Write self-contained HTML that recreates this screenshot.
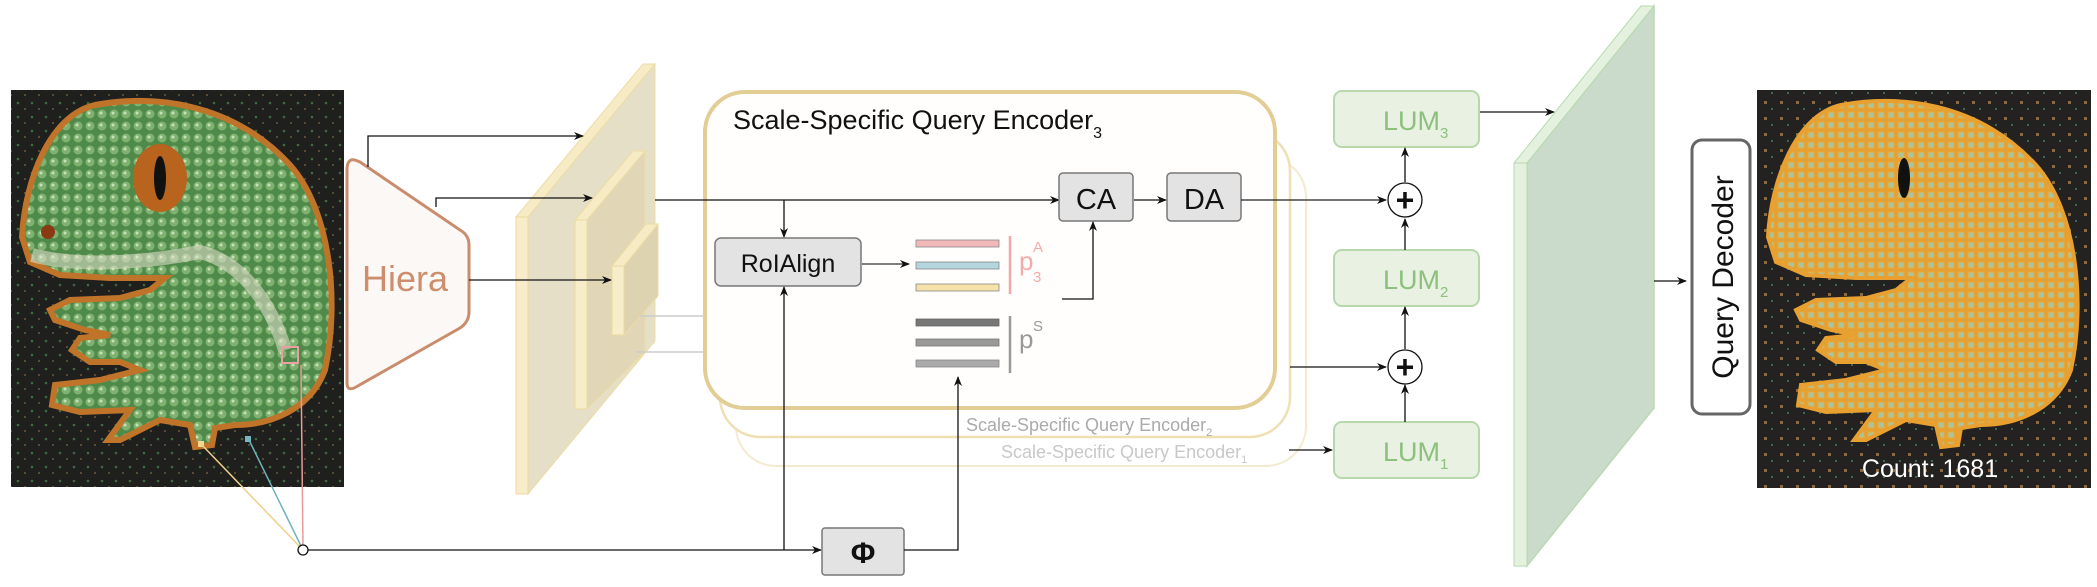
<!DOCTYPE html>
<html><head><meta charset="utf-8"><style>
html,body{margin:0;padding:0;background:#fff;}
svg{display:block;font-family:"Liberation Sans",sans-serif;}
</style></head><body>
<svg width="2097" height="587" viewBox="0 0 2097 587" xmlns="http://www.w3.org/2000/svg">
<defs>
<marker id="ar" markerWidth="10" markerHeight="10" refX="9" refY="5" orient="auto" markerUnits="userSpaceOnUse">
<path d="M0,1 L10,5 L0,9 L3,5 Z" fill="#111"/></marker>
<pattern id="dotsG" width="12" height="12" patternUnits="userSpaceOnUse">
<rect width="12" height="12" fill="#4f8a4a"/>
<circle cx="6" cy="6" r="4.5" fill="#7fb270"/><circle cx="5" cy="5" r="1.5" fill="#c8e0b8"/></pattern>
<pattern id="dotsO" width="10" height="10" patternUnits="userSpaceOnUse">
<rect width="10" height="10" fill="#e3a034"/>
<rect x="2" y="2" width="6" height="6" fill="#a8c4a0" stroke="#f0a830" stroke-width="1"/></pattern>
<pattern id="bg" width="14" height="14" patternUnits="userSpaceOnUse">
<rect width="14" height="14" fill="#1f1f1d"/><circle cx="4" cy="5" r="1.3" fill="#3f6a40"/><circle cx="11" cy="11" r="1" fill="#6a5a3a"/></pattern>
<pattern id="bg2" width="16" height="16" patternUnits="userSpaceOnUse">
<rect width="16" height="16" fill="#232220"/><rect x="4" y="5" width="3" height="3" fill="#8a6a40"/><rect x="11" y="12" width="2" height="2" fill="#3a6a5a"/></pattern>
<path id="gecko" d="M22,237 C25,180 50,115 95,105 C150,95 230,100 290,165 C330,210 340,300 325,370 C310,410 270,425 235,425 L215,428 L212,445 L195,447 L190,425 L160,420 L120,440 L108,440 L130,410 L80,412 L52,405 L55,385 L100,380 L140,370 L120,362 L90,362 L72,350 L80,338 L110,335 L85,330 L55,320 L50,310 L70,300 L120,298 L150,290 L165,278 L110,278 L60,275 L30,262 Z"/>
</defs>

<!-- left image -->
<rect x="11" y="90" width="333" height="397" fill="url(#bg)"/>
<use href="#gecko" fill="url(#dotsG)" stroke="#c0742a" stroke-width="6"/>
<path d="M32,255 C80,268 150,262 200,252 C240,262 270,300 285,350" fill="none" stroke="#e8e2d2" stroke-width="14" opacity="0.55"/>
<ellipse cx="160" cy="178" rx="27" ry="34" fill="#b8641e"/><ellipse cx="160" cy="178" rx="6" ry="22" fill="#111"/>
<circle cx="48" cy="232" r="7" fill="#8a3a12"/>
<rect x="282" y="347" width="16" height="16" fill="none" stroke="#e8a0a0" stroke-width="2"/>
<rect x="245" y="436" width="6" height="6" fill="#7ab8c0"/>
<rect x="198" y="441" width="6" height="6" fill="#f0d890"/>
<line x1="303" y1="550" x2="201" y2="444" stroke="#edd08a" stroke-width="1.5"/>
<line x1="303" y1="550" x2="249" y2="440" stroke="#6fb3bd" stroke-width="1.5"/>
<line x1="303" y1="550" x2="301" y2="365" stroke="#e99a9a" stroke-width="1.5"/>

<!-- Hiera -->
<path d="M355,160 Q347,158 347,170 L347,383 Q347,392 356,387 L460,328 Q469,322 469,312 L469,245 Q469,235 460,230 L360,162 Z" fill="#fcf8f6" stroke="#c98d6e" stroke-width="3"/>
<text x="405" y="291" font-size="36" fill="#cc8e6c" text-anchor="middle">Hiera</text>

<!-- slabs -->
<polygon points="528,217 655,64 655,341 528,494" fill="#e2d9bd" fill-opacity="0.85" stroke="#ecdca4" stroke-width="1"/>
<polygon points="516,217 528,217 655,64 643,64" fill="#f6ebc4" stroke="#ecdca4"/>
<rect x="516" y="217" width="12" height="277" fill="#f7edc8" stroke="#ecd9a0"/>
<polygon points="587,220 645,151 645,352 587,409" fill="#e0d6b5" fill-opacity="0.9" stroke="#ecdca4"/>
<polygon points="575,220 587,220 645,151 633,151" fill="#f6ebc4" stroke="#ecdca4"/>
<rect x="575" y="220" width="12" height="189" fill="#f7edc8" stroke="#ecd9a0"/>
<polygon points="624,266 658,224 658,296 624,335" fill="#ddd3b0" stroke="#ecdca4"/>
<polygon points="612,266 624,266 658,224 646,224" fill="#f6ebc4" stroke="#ecdca4"/>
<rect x="612" y="266" width="12" height="69" fill="#f7edc8" stroke="#ecd9a0"/>
<line x1="640" y1="316" x2="720" y2="316" stroke="#ccc" stroke-width="1.5"/>
<line x1="636" y1="352" x2="720" y2="352" stroke="#ccc" stroke-width="1.5"/>

<polyline points="368,167 368,136 583,136" fill="none" stroke="#111" stroke-width="1.3" marker-end="url(#ar)"/>
<polyline points="436,207 436,198 592,198" fill="none" stroke="#111" stroke-width="1.3" marker-end="url(#ar)"/>
<line x1="469" y1="280" x2="611" y2="280" stroke="#111" stroke-width="1.3" marker-end="url(#ar)"/>

<!-- encoders -->
<rect x="736" y="157" width="570" height="309" rx="40" fill="#fff" stroke="#f3ead0" stroke-width="2"/>
<rect x="720" y="131" width="570" height="306" rx="40" fill="#fff" stroke="#efe0b4" stroke-width="2.5"/>
<rect x="705" y="92" width="570" height="316" rx="40" fill="#fffefc" stroke="#e2cd94" stroke-width="4"/>
<text x="733" y="129" font-size="27" fill="#111">Scale-Specific Query Encoder<tspan font-size="16" dy="9">3</tspan></text>
<text x="966" y="431" font-size="18" fill="#aaa">Scale-Specific Query Encoder<tspan font-size="11" dy="5">2</tspan></text>
<text x="1001" y="458" font-size="18" fill="#c8c8c8">Scale-Specific Query Encoder<tspan font-size="11" dy="5">1</tspan></text>

<line x1="655" y1="200" x2="1059" y2="200" stroke="#111" stroke-width="1.3" marker-end="url(#ar)"/>
<line x1="784" y1="200" x2="784" y2="237" stroke="#111" stroke-width="1.3" marker-end="url(#ar)"/>
<rect x="1059" y="173" width="74" height="48" rx="4" fill="#e3e3e3" stroke="#777" stroke-width="1.5"/>
<text x="1096" y="209" font-size="29" fill="#111" text-anchor="middle">CA</text>
<line x1="1134" y1="200" x2="1166" y2="200" stroke="#111" stroke-width="1.3" marker-end="url(#ar)"/>
<rect x="1167" y="173" width="74" height="48" rx="4" fill="#e3e3e3" stroke="#777" stroke-width="1.5"/>
<text x="1204" y="209" font-size="29" fill="#111" text-anchor="middle">DA</text>
<line x1="1241" y1="200" x2="1386" y2="200" stroke="#222" stroke-width="1.3" marker-end="url(#ar)"/>

<rect x="715" y="238" width="146" height="48" rx="6" fill="#e3e3e3" stroke="#777" stroke-width="1.5"/>
<text x="788" y="272" font-size="25" fill="#111" text-anchor="middle">RoIAlign</text>
<line x1="862" y1="264" x2="909" y2="264" stroke="#333" stroke-width="1.3" marker-end="url(#ar)"/>
<rect x="916" y="240" width="83" height="7" fill="#f2b8b8" stroke="#888" stroke-width="0.8"/>
<rect x="916" y="262" width="83" height="7" fill="#b3d6de" stroke="#888" stroke-width="0.8"/>
<rect x="916" y="284" width="83" height="7" fill="#f6e1a8" stroke="#888" stroke-width="0.8"/>
<line x1="1010" y1="236" x2="1010" y2="294" stroke="#f2a8a8" stroke-width="2.5"/>
<text x="1019" y="270" font-size="26" fill="#f4aaaa">p</text>
<text x="1033" y="252" font-size="15" fill="#f4aaaa">A</text>
<text x="1033" y="282" font-size="15" fill="#f4aaaa">3</text>
<polyline points="1062,299 1093,299 1093,222" fill="none" stroke="#111" stroke-width="1.3" marker-end="url(#ar)"/>
<rect x="916" y="319" width="83" height="7" fill="#777" stroke="#666" stroke-width="0.8"/>
<rect x="916" y="339" width="83" height="7" fill="#999" stroke="#777" stroke-width="0.8"/>
<rect x="916" y="360" width="83" height="7" fill="#aaa" stroke="#888" stroke-width="0.8"/>
<line x1="1010" y1="316" x2="1010" y2="373" stroke="#999" stroke-width="2.5"/>
<text x="1019" y="348" font-size="26" fill="#999">p</text>
<text x="1033" y="331" font-size="15" fill="#999">S</text>

<!-- bottom path -->
<line x1="308" y1="550" x2="821" y2="550" stroke="#111" stroke-width="1.3" marker-end="url(#ar)"/>
<circle cx="303" cy="550" r="5" fill="#fff" stroke="#111" stroke-width="1.3"/>
<line x1="784" y1="550" x2="784" y2="287" stroke="#111" stroke-width="1.3" marker-end="url(#ar)"/>
<rect x="822" y="528" width="82" height="47" rx="3" fill="#e3e3e3" stroke="#777" stroke-width="1.5"/>
<text x="863" y="563" font-size="30" font-weight="bold" fill="#111" text-anchor="middle">Φ</text>
<polyline points="904,550 958,550 958,377" fill="none" stroke="#111" stroke-width="1.3" marker-end="url(#ar)"/>

<line x1="1290" y1="367" x2="1386" y2="367" stroke="#111" stroke-width="1.3" marker-end="url(#ar)"/>
<line x1="1289" y1="450" x2="1332" y2="450" stroke="#111" stroke-width="1.3" marker-end="url(#ar)"/>

<!-- LUMs -->
<g fill="#e8f1e2" stroke="#b8d8ab" stroke-width="2">
<rect x="1334" y="91" width="145" height="56" rx="8"/>
<rect x="1334" y="250" width="145" height="56" rx="8"/>
<rect x="1334" y="422" width="145" height="56" rx="8"/>
</g>
<g font-size="27" fill="#8cc07c">
<text x="1383" y="130">LUM<tspan font-size="15" dy="8">3</tspan></text>
<text x="1383" y="289">LUM<tspan font-size="15" dy="8">2</tspan></text>
<text x="1383" y="461">LUM<tspan font-size="15" dy="8">1</tspan></text>
</g>
<g stroke="#111" stroke-width="1.3">
<line x1="1405" y1="422" x2="1405" y2="385" marker-end="url(#ar)"/>
<line x1="1405" y1="349" x2="1405" y2="307" marker-end="url(#ar)"/>
<line x1="1405" y1="250" x2="1405" y2="219" marker-end="url(#ar)"/>
<line x1="1405" y1="182" x2="1405" y2="148" marker-end="url(#ar)"/>
</g>
<circle cx="1405" cy="200" r="17" fill="#fff" stroke="#111" stroke-width="1.3"/>
<circle cx="1405" cy="367" r="17" fill="#fff" stroke="#111" stroke-width="1.3"/>
<text x="1405" y="211" font-size="32" font-weight="bold" text-anchor="middle" fill="#111">+</text>
<text x="1405" y="378" font-size="32" font-weight="bold" text-anchor="middle" fill="#111">+</text>
<line x1="1480" y1="112" x2="1554" y2="112" stroke="#111" stroke-width="1.3" marker-end="url(#ar)"/>

<!-- green plane -->
<polygon points="1527,163 1654,6 1654,408 1527,566" fill="#cbdbcb" stroke="#b8dab0" stroke-width="1.5"/>
<polygon points="1514,163 1527,163 1654,6 1641,6" fill="#e3f1de" stroke="#b8dab0"/>
<rect x="1514" y="163" width="13" height="403" fill="#e3f1de" stroke="#b8dab0"/>
<line x1="1654" y1="281" x2="1686" y2="281" stroke="#111" stroke-width="1.3" marker-end="url(#ar)"/>

<!-- query decoder -->
<rect x="1692" y="140" width="58" height="274" rx="10" fill="#fff" stroke="#666" stroke-width="3"/>
<text transform="translate(1733,277) rotate(-90)" font-size="30" fill="#111" text-anchor="middle">Query Decoder</text>

<!-- right image -->
<rect x="1757" y="90" width="334" height="398" fill="url(#bg2)"/>
<g transform="translate(1746,0)"><use href="#gecko" fill="url(#dotsO)" stroke="#e8a030" stroke-width="4"/>
<ellipse cx="158" cy="178" rx="6" ry="20" fill="#111"/></g>
<text x="1930" y="477" font-size="25" fill="#fff" text-anchor="middle">Count: 1681</text>
</svg>
</body></html>
